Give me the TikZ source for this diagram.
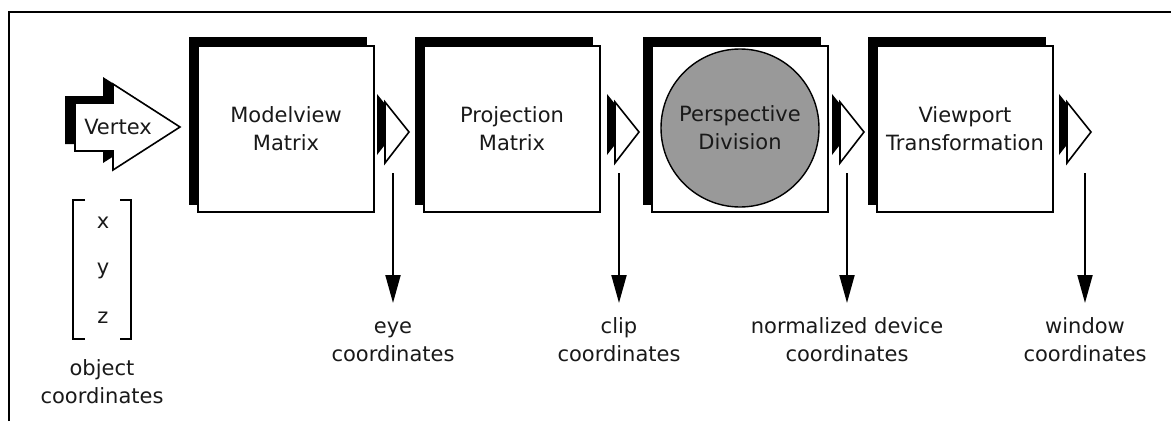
\documentclass[tikz,border=0pt]{standalone}
\usepackage{fontspec}
\setmainfont{DejaVu Sans}
\usetikzlibrary{shadows,arrows.meta}

\definecolor{divgray}{gray}{0.6}
\newcommand{\stagefont}{\fontsize{21}{28}\selectfont}

\begin{document}
\begin{tikzpicture}[x=1pt, y=-1pt,
    stage/.style={draw, line width=1.6pt, fill=white, minimum width=176pt,
      minimum height=166pt, align=center, font=\stagefont, text=black!90,
      copy shadow={shadow xshift=-8pt, shadow yshift=8pt, fill=black, draw=black}},
    coordtext/.style={align=center, inner sep=0pt, font=\stagefont, text=black!90},
    down/.style={line width=2pt, -{Triangle[length=28pt, width=15pt]}}]
  \useasboundingbox (0,0) rectangle (1171,421);
  % frame (cut off at right and bottom)
  \draw [line width=1.2pt] (9,421) -- (9,12) -- (1171,12);

  % vertex arrow
  \fill (65,96) -- (103,96) -- (103,77) -- (170,120) -- (103,163) -- (103,144) -- (65,144) -- cycle;
  \filldraw [fill=white, line width=1.6pt] (75,103) -- (113,103) -- (113,84) -- (180,127)
    -- (113,170) -- (113,151) -- (75,151) -- cycle;
  \node [font=\stagefont, text=black!90] (vertex) at (118,127) {Vertex};

  % object coordinates
  \draw [line width=1.8pt] (85,200) -- (73,200) -- (73,339) -- (85,339);
  \draw [line width=1.8pt] (120,200) -- (131,200) -- (131,339) -- (120,339);
  \node [coordtext] (vx) at (103,223) {x};
  \node [coordtext] (vy) at (103,271) {y};
  \node [coordtext] (vz) at (103,318) {z};
  \node [coordtext, anchor=north] (objc) at (102,356) {\strut object\\coordinates};

  % pipeline stages
  \node [stage] (mv) at (286,129) {Modelview\\Matrix};
  \node [stage] (pm) at (512,129) {Projection\\Matrix};
  \node [stage] (pd) at (740,129) {};
  \node [circle, draw, line width=1.4pt, fill=divgray, minimum size=158pt, align=center,
    font=\stagefont, text=black!90] (pdc) at (740,128) {Perspective\\Division};
  \node [stage] (vt) at (965,129) {Viewport\\Transformation};

  % small arrows after each stage
  \foreach \l in {385,615,840,1067} {
    \fill (\l-8,94) -- (\l+16,124) -- (\l-8,155) -- cycle;
    \filldraw [fill=white, line width=1.6pt] (\l,102) -- (\l+24,132) -- (\l,163) -- cycle;
  }

  % outputs
  \foreach \x/\n/\t in {393/eye/eye, 619/clip/clip, 847/ndc/normalized device, 1085/win/window} {
    \coordinate (\n out) at (\x,173);
    \node [coordtext, anchor=north] (\n) at (\x,314) {\strut\t\\coordinates};
    \draw [down, shorten >=11pt] (\n out) -- (\n.north);
  }
\end{tikzpicture}
\end{document}
